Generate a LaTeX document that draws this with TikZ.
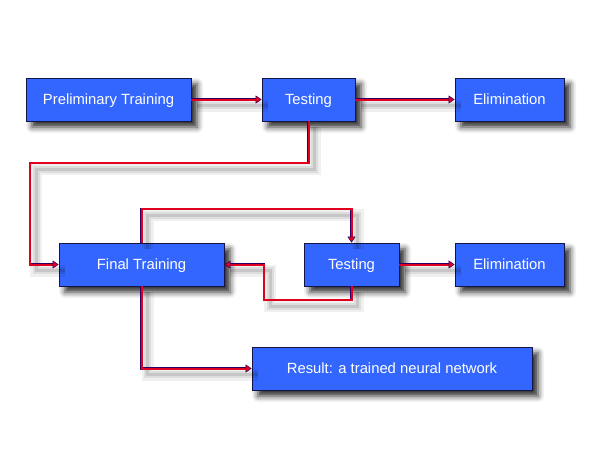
\documentclass[tikz,border=0pt]{standalone}
\usepackage{fontspec}
\setmainfont{Liberation Sans}
\usetikzlibrary{arrows.meta,shadows.blur}

\definecolor{boxblue}{RGB}{51,102,255}
\definecolor{boxedge}{RGB}{20,20,70}
\definecolor{linkred}{RGB}{225,0,30}
\definecolor{linknavy}{RGB}{45,0,100}

\begin{document}
\begin{tikzpicture}[x=1pt,y=-1pt,
    stage/.style={draw=boxedge,line width=0.8pt,fill=boxblue,text=white,
      minimum height=43pt,inner sep=0pt,text depth=1pt,
      font=\fontsize{14.8}{17}\selectfont,
      blur shadow={shadow xshift=6pt,shadow yshift=-6pt,
        shadow blur radius=6pt,shadow opacity=85}},
    link/.style={draw=linkred,line width=2pt,
      -{Triangle[length=6pt,width=8pt,color=linknavy,fill=linkred,line width=0.5pt]},
      preaction={draw=black,opacity=0.06,line width=12pt,arrows=-,
        transform canvas={shift={(6pt,-6pt)}}},
      preaction={draw=black,opacity=0.08,line width=7pt,arrows=-,
        transform canvas={shift={(6pt,-6pt)}}},
      preaction={draw=black,opacity=0.1,line width=3pt,arrows=-,
        transform canvas={shift={(6pt,-6pt)}}},
      preaction={draw=linknavy,line width=2.8pt,arrows=-,shorten >=4pt}}]
  \useasboundingbox (0,0) rectangle (600,450);

  % first round
  \node[stage,minimum width=165pt] (pre) at (108.5,99.5) {Preliminary Training};
  \node[stage,minimum width=93pt] (test1) at (308.5,99.5) {Testing};
  \node[stage,minimum width=109pt] (elim1) at (509.5,99.5) {Elimination};

  % second round
  \node[stage,minimum width=165pt] (final) at (141.5,264.5) {Final Training};
  \node[stage,minimum width=95pt] (test2) at (351.5,264.5) {Testing};
  \node[stage,minimum width=109pt] (elim2) at (509.5,264.5) {Elimination};
  \node[stage,minimum width=280pt] (result) at (392,368.5) {Result: a trained neural network};

  \coordinate (down) at (30,163);
  \coordinate (over) at (351.5,209);
  \coordinate (back) at (264,300);

  \draw[link] (pre) -- (test1);
  \draw[link] (test1) -- (elim1);
  \draw[link] (test1.south) |- (down) |- (final.west);
  \draw[link] (final.north) |- (over) -- (test2.north);
  \draw[link] (test2.south) |- (back) |- (final.east);
  \draw[link] (test2) -- (elim2);
  \draw[link] (final.south) |- (result.west);
\end{tikzpicture}
\end{document}
